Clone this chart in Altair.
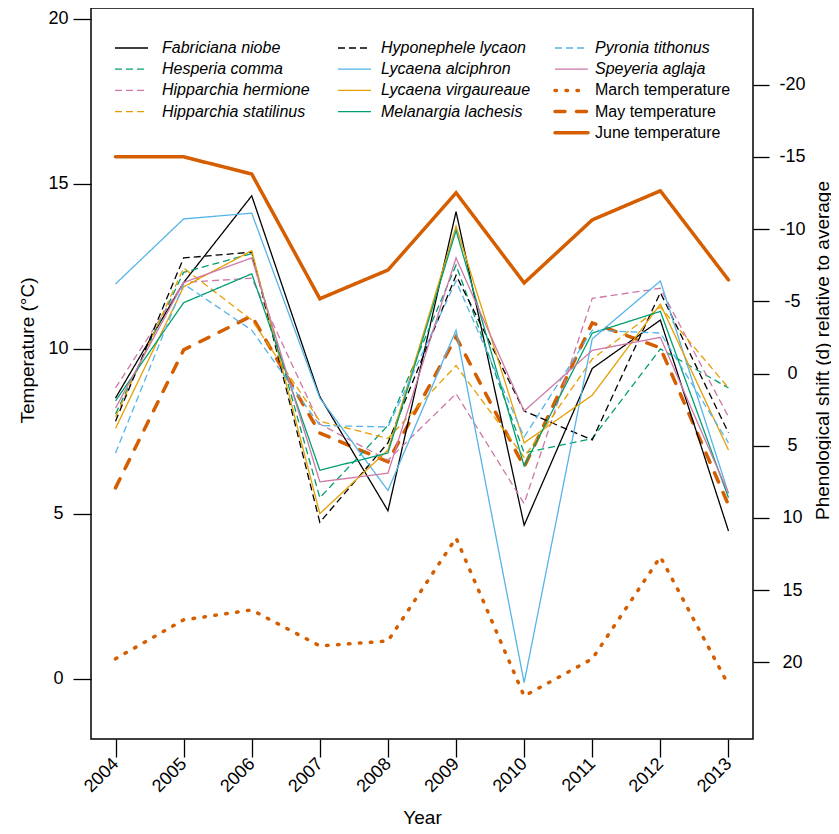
import altair as alt
import pandas as pd

# ---------------- data ----------------
years = list(range(2004, 2014))

march_temp = [0.61, 1.79, 2.09, 1.00, 1.15, 4.27, -0.52, 0.61, 3.70, -0.18]
may_temp = [5.79, 9.97, 11.00, 7.45, 6.58, 10.36, 6.42, 10.79, 10.03, 5.27]
june_temp = [15.82, 15.82, 15.30, 11.52, 12.39, 14.73, 12.00, 13.91, 14.79, 12.09]
temp_names = ["March temperature", "May temperature", "June temperature"]

species_names = [
    "Fabriciana niobe", "Hesperia comma", "Hipparchia hermione", "Hipparchia statilinus",
    "Hyponephele lycaon", "Lycaena alciphron", "Lycaena virgaureaue", "Melanargia lachesis",
    "Pyronia tithonus", "Speyeria aglaja",
]
fabriciana_niobe = [1.7, -6.3, -12.3, 1.6, 9.5, -11.2, 10.5, -0.35, -3.7, 10.9]
hesperia_comma = [2.8, -7.0, -8.3, 8.6, 3.6, -7.5, 5.5, 4.5, -1.7, 1.0]
hipparchia_hermione = [1.0, -6.3, -6.6, 3.5, 6.0, 1.4, 9.0, -5.2, -5.9, 3.0]
hipparchia_statilinus = [3.0, -7.3, -3.7, 3.3, 4.5, -0.55, 5.8, -1.0, -4.6, 1.0]
hyponephele_lycaon = [3.3, -8.0, -8.4, 10.3, 4.8, -6.8, 2.6, 4.6, -5.6, 4.1]
lycaena_alciphron = [-6.2, -10.7, -11.1, 1.7, 8.1, -3.0, 21.4, -2.4, -6.4, 8.3]
lycaena_virgaureae = [3.8, -6.0, -8.5, 9.7, 5.3, -10.2, 4.8, 1.5, -4.8, 5.3]
melanargia_lachesis = [1.9, -4.9, -6.9, 6.7, 5.5, -9.9, 6.4, -2.8, -4.3, 8.6]
pyronia_tithonus = [5.5, -6.2, -3.0, 3.6, 3.7, -6.4, 4.4, -3.0, -2.8, 4.8]
speyeria_aglaja = [2.4, -6.3, -8.0, 7.5, 6.9, -8.0, 2.6, -1.6, -2.5, 8.3]

species_values = [
    fabriciana_niobe, hesperia_comma, hipparchia_hermione, hipparchia_statilinus,
    hyponephele_lycaon, lycaena_alciphron, lycaena_virgaureae, melanargia_lachesis,
    pyronia_tithonus, speyeria_aglaja,
]

# ---------------- styles ----------------
BLACK, GREEN, PINK, ORANGE, SKY, VERM = "#000000", "#009E73", "#CC79A7", "#E69F00", "#56B4E9", "#D55E00"
SOLID, DASH = [1, 0], [7, 4]
species_colors = [BLACK, GREEN, PINK, ORANGE, BLACK, SKY, ORANGE, GREEN, SKY, PINK]
species_dash = [SOLID, DASH, DASH, DASH, DASH, SOLID, SOLID, SOLID, DASH, SOLID]
temp_colors = [VERM, VERM, VERM]
temp_dash = [[1.5, 9.5], [10, 11.5], [1, 0]]

FONT = "Liberation Sans"
W, H = 662, 731

temp_df = pd.DataFrame({
    "Year": years * 3,
    "series": [n for n in temp_names for _ in years],
    "value": march_temp + may_temp + june_temp,
})
sp_df = pd.DataFrame({
    "Year": years * len(species_names),
    "species": [n for n in species_names for _ in years],
    "shift": [v for vals in species_values for v in vals],
})

x_scale = alt.Scale(domain=[2003.64, 2013.36], nice=False, zero=False)
x_axis = alt.Axis(
    values=years, labelExpr="toString(datum.value)", labelAngle=315,
    labelAlign="right", labelBaseline="middle", labelPadding=4, tickSize=18,
    labelFlush=False, labelOverlap=False, labelFontSize=18,
    title="Year", titleX=W / 2, titleY=78, titleAlign="center", titleBaseline="middle",
)

species_layer = alt.Chart(sp_df).mark_line(strokeWidth=1.3, strokeCap="butt").encode(
    x=alt.X("Year:Q", scale=x_scale, axis=x_axis),
    y=alt.Y(
        "shift:Q",
        scale=alt.Scale(domain=[-25.3, 25.3], reverse=True, nice=False, zero=False),
        axis=alt.Axis(
            orient="right", values=list(range(-20, 21, 5)), labelExpr="toString(datum.value)",
            labelAlign="center", labelBaseline="middle", labelPadding=23, tickSize=16,
            title="Phenological shift (d) relative to average", titleAngle=270,
            titleX=69, titleY=342, titleAlign="center", titleBaseline="middle",
            labelOverlap=False,
        ),
    ),
    color=alt.Color("species:N", scale=alt.Scale(domain=species_names, range=species_colors), legend=None),
    strokeDash=alt.StrokeDash("species:N", scale=alt.Scale(domain=species_names, range=species_dash), legend=None),
)

temp_layer = alt.Chart(temp_df).mark_line(strokeWidth=3.5, strokeCap="round").encode(
    x=alt.X("Year:Q", scale=x_scale, axis=x_axis),
    y=alt.Y(
        "value:Q",
        scale=alt.Scale(domain=[-1.82, 20.33], nice=False, zero=False),
        axis=alt.Axis(
            orient="left", values=[0, 5, 10, 15, 20], labelExpr="toString(datum.value)",
            labelAlign="center", labelBaseline="middle", labelPadding=15, tickSize=18,
            title="Temperature (°C)", titleAngle=270, titleX=-64, titleY=342,
            titleAlign="center", titleBaseline="middle", labelOverlap=False,
        ),
    ),
    color=alt.Color("series:N", scale=alt.Scale(domain=temp_names, range=temp_colors), legend=None),
    strokeDash=alt.StrokeDash("series:N", scale=alt.Scale(domain=temp_names, range=temp_dash), legend=None),
)

# ---------------- manual legend (three columns) ----------------
legend_labels = species_names + temp_names
legend_colors = species_colors + temp_colors
legend_dash = species_dash + temp_dash
legend_col = [0, 0, 0, 0, 1, 1, 1, 1, 2, 2, 2, 2, 2]
legend_row = [0, 1, 2, 3, 0, 1, 2, 3, 0, 1, 2, 3, 4]
col_line_x1 = [24, 247, 464]
col_line_x2 = [57, 280, 497]
col_text_x = [71, 290, 504]
row_y0, row_step = 40, 21.2

leg_df = pd.DataFrame({
    "label": legend_labels,
    "x1": [col_line_x1[c] for c in legend_col],
    "x2": [col_line_x2[c] for c in legend_col],
    "tx": [col_text_x[c] for c in legend_col],
    "ly": [row_y0 + row_step * r for r in legend_row],
    "italic": [True] * len(species_names) + [False] * len(temp_names),
})

legend_layers = []
for i, name in enumerate(legend_labels):
    is_temp = name in temp_names
    legend_layers.append(
        alt.Chart(leg_df).transform_filter(alt.datum.label == name).mark_rule(
            color=legend_colors[i], strokeDash=legend_dash[i],
            strokeWidth=3.5 if is_temp else 1.3,
            strokeCap="round" if is_temp else "butt",
        ).encode(
            x=alt.X("x1:Q", scale=None), x2="x2:Q", y=alt.Y("ly:Q", scale=None)
        )
    )

legend_text_it = alt.Chart(leg_df).transform_filter(alt.datum.italic == True).mark_text(
    align="left", baseline="middle", font=FONT, fontSize=16, fontStyle="italic", color="black"
).encode(x=alt.X("tx:Q", scale=None), y=alt.Y("ly:Q", scale=None), text="label:N")

legend_text_n = alt.Chart(leg_df).transform_filter(alt.datum.italic == False).mark_text(
    align="left", baseline="middle", font=FONT, fontSize=16, color="black"
).encode(x=alt.X("tx:Q", scale=None), y=alt.Y("ly:Q", scale=None), text="label:N")

chart = alt.layer(
    temp_layer, species_layer, *legend_layers, legend_text_it, legend_text_n
).resolve_scale(
    y="independent", color="independent", strokeDash="independent"
).properties(
    width=W, height=H,
    autosize=alt.AutoSizeParams(type="none"),
    padding={"left": 83, "top": 0, "right": 78, "bottom": 87},
    background="white",
).configure_view(
    stroke="black", strokeWidth=1.5
).configure_axis(
    labelFont=FONT, labelFontSize=18, labelColor="black",
    titleFont=FONT, titleFontSize=19, titleFontWeight="normal", titleColor="black",
    tickColor="black", tickWidth=1.3, domain=False, grid=False,
)

chart.save("out.html", embed_options={"renderer": "svg", "actions": False})
